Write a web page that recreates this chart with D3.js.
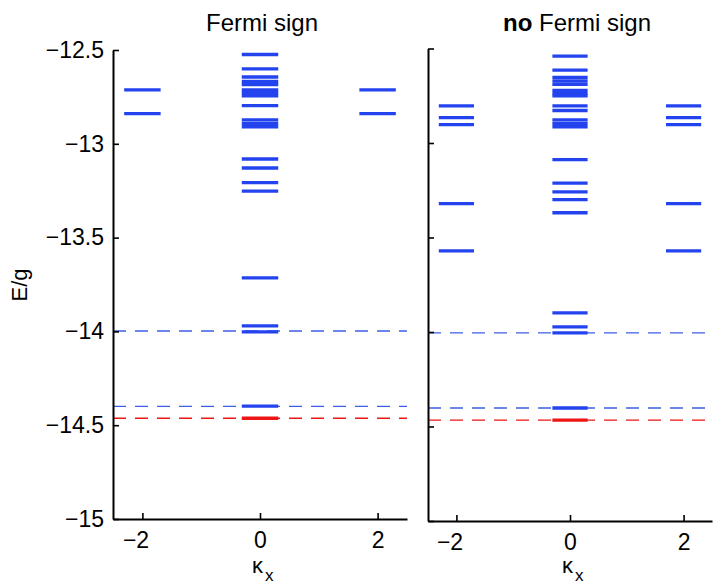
<!DOCTYPE html>
<html>

<head>
    <style>
        body { margin: 0; background: #fff; }
        text { font-family: "Liberation Sans", Arial, sans-serif; fill: #000; }
    </style>
</head>

<body>
    <script src="https://d3js.org/d3.v7.min.js"></script>
    <div id="chart"></div>
    <script>
        // data
        const kappaTicks = [-2, 0, 2]
        const energyTicks = [-15, -14.5, -14, -13.5, -13, -12.5]
        const sideKappas = [-2, 2]

        const leftCenterLevels = [-12.524, -12.601, -12.644, -12.668, -12.684, -12.713, -12.728, -12.744,
            -12.797, -12.873, -12.891, -12.909, -13.081, -13.129, -13.207, -13.252, -13.715, -13.971,
            -14.003, -14.398]
        const leftSideLevels = [-12.713, -12.839]
        const leftGroundLevels = [-14.463]
        const leftBlueDashed = [-13.998, -14.40]
        const leftRedDashed = [-14.463]

        const rightCenterLevels = [-12.540, -12.614, -12.653, -12.672, -12.690, -12.722, -12.738, -12.751,
            -12.804, -12.828, -12.878, -12.896, -12.914, -13.088, -13.212, -13.259, -13.300, -13.369,
            -13.899, -13.973, -14.005, -14.402]
        const rightSideLevels = [-12.804, -12.866, -12.903, -13.321, -13.571]
        const rightGroundLevels = [-14.466]
        const rightBlueDashed = [-14.005, -14.402]
        const rightRedDashed = [-14.466]

        const width = 723
        const height = 587
        const halfWidth = 0.31
        const blue = "#2343ef"
        const dashBlue = "#3d5fe6"
        const red = "#ee1515"

        const svg = d3.select("#chart").append("svg")
            .attr("width", width)
            .attr("height", height)

        const drawPanel = (opts) => {
            const xScale = d3.scaleLinear().domain([-2.5, 2.5]).range(opts.xRange)
            const yScale = d3.scaleLinear().domain([-15, -12.5]).range(opts.yRange)
            const g = svg.append("g")

            // dashed reference lines
            g.selectAll(".dash-blue")
                .data(opts.blueDashed)
                .enter()
                .append("line")
                .attr("x1", xScale(-2.5))
                .attr("x2", xScale(2.5))
                .attr("y1", d => yScale(d))
                .attr("y2", d => yScale(d))
                .attr("stroke", dashBlue)
                .attr("stroke-width", 1.3)
                .attr("stroke-dasharray", "13,9")
            g.selectAll(".dash-red")
                .data(opts.redDashed)
                .enter()
                .append("line")
                .attr("x1", xScale(-2.5))
                .attr("x2", xScale(2.5))
                .attr("y1", d => yScale(d))
                .attr("y2", d => yScale(d))
                .attr("stroke", red)
                .attr("stroke-width", 1.3)
                .attr("stroke-dasharray", "13,9")

            const levels = []
            opts.center.forEach(e => levels.push({ k: 0, e: e, c: blue }))
            sideKappas.forEach(k => opts.side.forEach(e => levels.push({ k: k, e: e, c: blue })))
            opts.ground.forEach(e => levels.push({ k: 0, e: e, c: red }))

            g.selectAll(".level")
                .data(levels)
                .enter()
                .append("line")
                .attr("class", "level")
                .attr("x1", d => xScale(d.k - halfWidth))
                .attr("x2", d => xScale(d.k + halfWidth))
                .attr("y1", d => yScale(d.e))
                .attr("y2", d => yScale(d.e))
                .attr("stroke", d => d.c)
                .attr("stroke-width", 3.3)

            const xAxis = d3.axisBottom(xScale)
                .tickValues(kappaTicks)
                .tickSizeInner(-6)
                .tickSizeOuter(0)
                .tickPadding(13)
                .tickFormat(d => d < 0 ? "\u2212" + Math.abs(d) : d)
            const yAxis = d3.axisLeft(yScale)
                .tickValues(energyTicks)
                .tickSizeInner(-6)
                .tickSizeOuter(0)
                .tickPadding(9)
                .tickFormat(opts.yLabels ? (d => "\u2212" + Math.abs(d)) : "")

            const gx = g.append("g")
                .attr("transform", "translate(0," + opts.yRange[0] + ")")
                .call(xAxis)
            const gy = g.append("g")
                .attr("transform", "translate(" + opts.xRange[0] + ",0)")
                .call(yAxis)

            ;[gx, gy].forEach(a => {
                a.select(".domain").attr("stroke", "#000").attr("stroke-width", 2)
                a.selectAll(".tick line").attr("stroke", "#000").attr("stroke-width", 1.6)
                a.selectAll(".tick text")
                    .attr("font-size", 23)
                    .attr("font-family", "Liberation Sans, Arial, sans-serif")
                    .attr("fill", "#000")
            })
            gx.selectAll(".tick text").attr("dx", d => d < 0 ? "-0.3em" : 0)

            const cx = xScale(0)
            const title = svg.append("text")
                .attr("x", cx + opts.titleShift)
                .attr("y", 31)
                .attr("text-anchor", "middle")
                .attr("font-size", 24)
            if (opts.bold) {
                title.append("tspan").attr("font-weight", "bold").text(opts.bold + " ")
            }
            title.append("tspan").text(opts.title)

            const kappa = svg.append("text")
                .attr("x", cx - 8)
                .attr("y", 573)
                .attr("font-size", 22)
            kappa.append("tspan").text("\u03ba")
            kappa.append("tspan")
                .attr("dx", 2)
                .attr("dy", 8)
                .attr("font-size", 17)
                .text("x")
        }

        drawPanel({
            xRange: [113, 407], yRange: [519, 50],
            center: leftCenterLevels, side: leftSideLevels, ground: leftGroundLevels,
            blueDashed: leftBlueDashed, redDashed: leftRedDashed,
            yLabels: true, title: "Fermi sign", bold: null, titleShift: 2
        })
        drawPanel({
            xRange: [428, 712], yRange: [521, 48.5],
            center: rightCenterLevels, side: rightSideLevels, ground: rightGroundLevels,
            blueDashed: rightBlueDashed, redDashed: rightRedDashed,
            yLabels: false, title: "Fermi sign", bold: "no", titleShift: 7
        })

        svg.append("text")
            .attr("transform", "translate(27,285) rotate(-90)")
            .attr("text-anchor", "middle")
            .attr("font-size", 22)
            .text("E/g")
    </script>
</body>

</html>
